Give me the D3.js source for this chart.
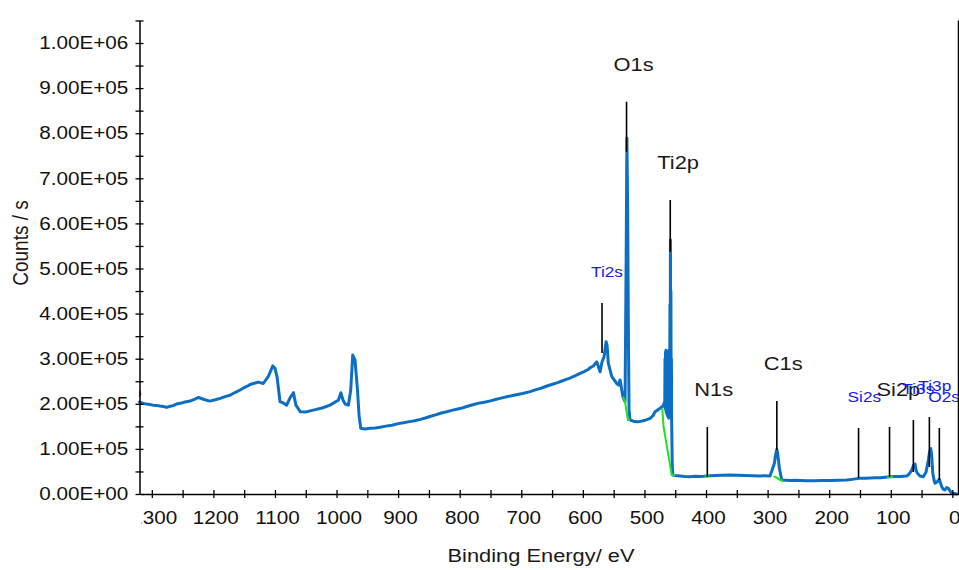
<!DOCTYPE html>
<html>
<head>
<meta charset="utf-8">
<script src="https://cdn.jsdelivr.net/npm/d3@7"></script>
<style>
  html, body { margin: 0; padding: 0; background: #ffffff; }
  svg { display: block; font-family: "Liberation Sans", Arial, sans-serif; }
</style>
</head>
<body>
<svg id="chart" width="959" height="570"></svg>
<script>
// XPS survey spectrum: binding energy (eV) against intensity (counts/s)
const bindingEnergy = [
  1320, 1314, 1309, 1303, 1298, 1292, 1287, 1281, 1276, 1270, 1265.5, 1260, 1254, 1246, 1238,
  1231, 1224, 1215, 1206, 1197, 1189, 1181, 1173, 1165, 1156.5, 1150, 1145, 1139, 1135, 1127,
  1119, 1110.5, 1103.5, 1100, 1096.6, 1091.8, 1087, 1081, 1075.6, 1070, 1066, 1059, 1049.6,
  1037.7, 1023.5, 1010.6, 1000.8, 997, 993, 989.5, 986, 980.8, 977, 973.7, 970, 966, 963.5,
  960.7, 953.7, 945.6, 937, 929.4, 920, 910, 900, 891.3, 882, 873, 864, 856, 847, 838, 830,
  821, 813, 805, 798, 791, 779, 767, 758, 750, 742, 734.6, 722, 710, 698, 685.8, 676, 667,
  657, 648, 641, 635, 628, 621, 613, 604.6, 598, 591.6, 587, 583, 577.5, 572, 569, 565.6,
  562.3, 560.7, 558.6, 553, 545, 542, 539.6, 535, 531.5, 529.6, 528.5, 527.4, 526.1, 525,
  523.4, 518, 512.5, 507, 501.8, 496, 490.9, 486, 482.8, 478, 474.7, 471, 469.3, 467, 466.6,
  466.2, 465.8, 465.4, 465, 464.6, 464.2, 463.8, 463.4, 463, 462.6, 462.2, 461.8, 461.4, 461,
  460.6, 460.2, 459.8, 459.4, 459, 458.6, 458.2, 457.8, 457.4, 457, 456.6, 456.2, 455.8,
  455.4, 454.8, 454, 450.3, 442.2, 434, 425.9, 418, 409.7, 404, 398.8, 392, 385.3, 373, 361,
  349, 336.7, 324, 312.3, 304, 296, 289, 287.1, 285.2, 283.9, 280.9, 277, 270, 263.6, 255,
  247.3, 236, 225.7, 212, 198.6, 185, 171.5, 160, 149.9, 141, 133.7, 125, 117.4, 109, 101.2,
  93, 84.9, 79, 74, 70.3, 65.9, 63, 60.6, 59, 56.8, 52.5, 47.1, 42.7, 39, 37, 35.1, 33.5, 31.8,
  29.7, 28.1, 24.8, 21.1, 19.2, 17.2, 15.1, 11.9, 9.1, 6.5, 3.7, 1, -2.8, -7.1
];
const counts = [
  204000, 201000, 199500, 198500, 197000, 196500, 195000, 194000, 192000, 194500, 196000, 199500, 201000, 204000, 206000,
  210000, 214000, 209500, 206000, 209000, 212000, 216000, 219000, 225000, 230600, 236000, 239000, 243500, 245000, 248000,
  245000, 261600, 284000, 279000, 259000, 204600, 202000, 197000, 213000, 224600, 197000, 182500, 182000,
  186000, 190700, 197000, 205000, 208000, 224600, 208000, 199500, 197000, 230600, 308000, 297000, 230600, 175000,
  145700, 144000, 145700, 146500, 148000, 150500, 152500, 156000, 158000, 160500, 162500, 165500, 168500, 172500, 176000, 179500,
  182500, 185500, 188000, 190000, 193000, 198000, 202000, 204000, 206500, 209500, 212000, 216000, 219500, 223000, 227000, 231500, 235000,
  240000, 244000, 247000, 250000, 253500, 257000, 262000, 267600, 271500, 276000, 281000, 283800, 293000, 271000, 292600, 304000,
  337600, 330000, 289800, 260000, 245000, 241600, 252700, 215700, 204600, 541000, 788600, 652000, 363600, 186000,
  164000, 161500, 160000, 161000, 162500, 165000, 167800, 174000, 182500, 187000, 190000, 194000, 197000, 205000, 300000,
  190000, 315000, 185000, 319000, 180000, 318000, 178000, 316000, 175000, 312000, 172000, 305000, 170000, 300000,
  168000, 295000, 170000, 320000, 180000, 420000, 200000, 563000, 300000, 450000, 170000, 300000, 160000,
  120000, 60000, 42000, 41000, 40000, 39000, 38400, 39500, 38800, 39300, 40000, 40500, 41000, 41500, 42000,
  41500, 41000, 40500, 40000, 40500, 40000, 68000, 86500, 98700, 93000, 57000, 31000, 30500, 30000, 30500,
  30000, 29200, 29500, 30200, 30000, 30600, 31000, 33000, 34800, 35000, 35500, 35800, 36000, 37200, 38400,
  38600, 38800, 39500, 40000, 44000, 53000, 64000, 66500, 53000, 46000, 40000, 38400, 48800, 75400, 93000, 101000, 86500, 46000,
  31000, 23700, 26600, 32600, 24400, 16200, 11000, 8900, 14400, 12600, 6700, 1600, 1100, 0
];

// Fitted backgrounds under the main peaks
const backgroundRegions = [
  { be: [535, 531.5, 526.8, 523.4], counts: [215700, 204600, 164000, 164000] },
  { be: [471, 469, 455.7, 450], counts: [190000, 150000, 42000, 42000] },
  { be: [402, 395], counts: [40000, 39500] },
  { be: [290, 289, 278, 275], counts: [40000, 39000, 30000, 30000] },
  { be: [106, 96], counts: [37700, 37000] }
];

// Peak identification markers
const peakNames = ["O1s", "Ti2p", "Ti2s", "N1s", "C1s", "Si2s", "Si2p", "Ti3s", "Ti3p", "O2s"];
const peakEnergy = [529.1, 458.1, 568.9, 397.9, 285, 152.3, 102, 63.3, 37.3, 21.1];
const peakLow = [758900, 537200, 312600, 37700, 97500, 35500, 37700, 48800, 59900, 31000];
const peakHigh = [869700, 651800, 423400, 148500, 206200, 146300, 148500, 164000, 170700, 146300];
const peakMajor = [true, true, false, true, true, false, true, false, false, false];

// Region start marker
const regionMarkBE = [1320, 1319, 1318];
const regionMarkCounts = [215700, 229000, 220000];

// Axis ticks
const xTickValues = d3.range(0, 1301, 50);
const yTickValues = d3.range(0, 1050001, 50000);
const xAxisTitle = "Binding Energy/ eV";
const yAxisTitle = "Counts / s";

const svg = d3.select("#chart");
const STRETCH = 1.15;

const x = d3.scaleLinear().domain([1320, -10]).range([139.5, 958.5]);
const y = d3.scaleLinear().domain([0, 1050000]).range([494, 20.45]);

function sci(v) {
  if (v === 0) return "0.00E+00";
  const e = Math.floor(Math.log10(v));
  const m = v / Math.pow(10, e);
  return m.toFixed(2) + "E+" + String(e).padStart(2, "0");
}

// Spectrum trace
const spectrum = bindingEnergy.map((b, i) => [b, counts[i]]);
const line = d3.line().x(d => x(d[0])).y(d => y(d[1]));

svg.append("path")
  .datum(spectrum)
  .attr("d", line)
  .attr("fill", "none")
  .attr("stroke", "#0d6fc4")
  .attr("stroke-width", 3)
  .attr("stroke-linejoin", "round")
  .attr("stroke-linecap", "round");

// Backgrounds
backgroundRegions.forEach(r => {
  svg.append("path")
    .datum(r.be.map((b, i) => [b, r.counts[i]]))
    .attr("d", line)
    .attr("fill", "none")
    .attr("stroke", "#22e022")
    .attr("stroke-width", 2);
});

// Region marker
svg.append("path")
  .datum(regionMarkBE.map((b, i) => [b, regionMarkCounts[i]]))
  .attr("d", line)
  .attr("fill", "none")
  .attr("stroke", "#e01010")
  .attr("stroke-width", 1.3);

// Peak marker lines
const peaks = peakNames.map((n, i) => ({
  name: n, be: peakEnergy[i], lo: peakLow[i], hi: peakHigh[i], major: peakMajor[i]
}));

svg.append("g").selectAll("line")
  .data(peaks)
  .join("line")
  .attr("x1", d => x(d.be)).attr("x2", d => x(d.be))
  .attr("y1", d => y(d.lo)).attr("y2", d => y(d.hi))
  .attr("stroke", "#000")
  .attr("stroke-width", 1.6);

// Peak labels: black for principal lines, blue for secondary ones
const labelG = svg.append("g");
[true, false].forEach(major => {
  labelG.selectAll(null)
    .data(peaks.filter(p => p.major === major))
    .join("text")
    .attr("transform", d => major
      ? `translate(${x(d.be) - 13},${y(d.hi) - 38}) scale(${STRETCH},1)`
      : `translate(${x(d.be) - 11},${y(d.hi) - 32}) scale(${STRETCH},1)`)
    .attr("dominant-baseline", "central")
    .attr("font-size", major ? 19 : 15)
    .attr("fill", major ? "#1a1a1a" : "#1a1aee")
    .text(d => d.name);
});

// Right frame edge
svg.append("line")
  .attr("x1", x(-10)).attr("x2", x(-10))
  .attr("y1", y(1050000)).attr("y2", y(0))
  .attr("stroke", "#000").attr("stroke-width", 1.5);

// X axis
svg.append("defs").append("clipPath").attr("id", "xclip")
  .append("rect").attr("x", 141.5).attr("y", -10).attr("width", 830).attr("height", 80);

const xAxisG = svg.append("g")
  .attr("transform", `translate(0,${y(0)})`)
  .attr("clip-path", "url(#xclip)")
  .call(d3.axisBottom(x)
    .tickValues(xTickValues)
    .tickFormat(d => d % 100 === 0 ? String(d) : "")
    .tickSizeInner(4).tickSizeOuter(0));
xAxisG.select(".domain").attr("stroke", "#000").attr("stroke-width", 1.5);
xAxisG.selectAll(".tick line").attr("y1", -4).attr("y2", 4)
  .attr("stroke", "#000").attr("stroke-width", 1.3);
xAxisG.selectAll(".tick text")
  .attr("x", 1.7).attr("y", 17.5).attr("dy", "0.71em")
  .attr("transform", `scale(${STRETCH},1)`)
  .attr("font-family", "Liberation Sans, Arial, sans-serif")
  .attr("font-size", 18).attr("fill", "#111");

// Y axis
const yAxisG = svg.append("g")
  .attr("transform", `translate(${x(1320)},0)`)
  .call(d3.axisLeft(y)
    .tickValues(yTickValues)
    .tickFormat(d => Math.round(d / 50000) % 2 === 0 ? sci(d) : "")
    .tickSizeInner(4).tickSizeOuter(0));
yAxisG.select(".domain").attr("stroke", "#000").attr("stroke-width", 1.5);
yAxisG.selectAll(".tick line").attr("x1", -4).attr("x2", 4)
  .attr("stroke", "#000").attr("stroke-width", 1.3);
yAxisG.selectAll(".tick text")
  .attr("x", -9.8)
  .attr("transform", `scale(${STRETCH},1)`)
  .attr("font-family", "Liberation Sans, Arial, sans-serif")
  .attr("font-size", 18).attr("fill", "#111");

// Axis titles
svg.append("text")
  .attr("transform", `translate(541,555) scale(${STRETCH},1)`)
  .attr("text-anchor", "middle").attr("dominant-baseline", "central")
  .attr("font-size", 19).attr("fill", "#1a1a1a")
  .text(xAxisTitle);

svg.append("text")
  .attr("transform", `translate(20,243) scale(${STRETCH},1) rotate(-90)`)
  .attr("text-anchor", "middle").attr("dominant-baseline", "central")
  .attr("font-size", 19).attr("fill", "#1a1a1a")
  .text(yAxisTitle);
</script>
</body>
</html>
